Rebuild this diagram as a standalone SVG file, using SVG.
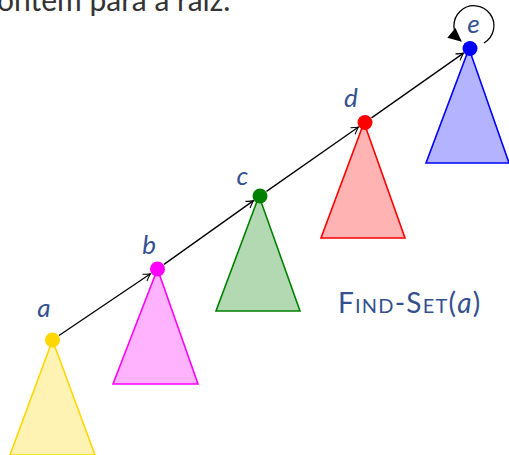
<svg xmlns="http://www.w3.org/2000/svg" width="509" height="455" viewBox="0 0 509 455">
<style>
.lbl{font-family:Lato,"Noto Sans",sans-serif;font-style:italic;font-size:26px;fill:#34508f;text-anchor:middle}
.tri{stroke-width:1.6;stroke-linejoin:miter}
.edge{stroke:#000;stroke-width:1.3;fill:none}
</style>
<defs>
<marker id="to" markerUnits="userSpaceOnUse" markerWidth="14" markerHeight="12" viewBox="-8 -6 10 12" refX="0" refY="0" orient="auto">
<path d="M -7,-4 Q -2,-0.8 0,0 Q -2,0.8 -7,4" fill="none" stroke="#000" stroke-width="1.1"/>
</marker>
<marker id="loopHead" markerUnits="userSpaceOnUse" markerWidth="16" markerHeight="16" viewBox="-12 -7 14 14" refX="0" refY="0" orient="auto">
<path d="M -11,-5.5 L 1,0 L -11,5.5 Z" fill="#000"/>
</marker>
</defs>
<rect width="509" height="455" fill="#fff"/>
<text x="-3" y="11" font-family="Lato,'Noto Sans',sans-serif" font-size="30" fill="#333">ontem para a raiz.</text>

<g id="connectors">
<line class="edge" x1="59" y1="335.5" x2="150.5" y2="273.7" marker-end="url(#to)"/>
<line class="edge" x1="164" y1="264.4" x2="253.5" y2="200.6" marker-end="url(#to)"/>
<line class="edge" x1="266.5" y1="191.4" x2="358.5" y2="127" marker-end="url(#to)"/>
<line class="edge" x1="371.5" y1="117.9" x2="463.5" y2="53.1" marker-end="url(#to)"/>
<path class="edge" stroke-width="1.5" d="M 484,43 A 20,20 0 1 0 461,41" marker-end="url(#loopHead)"/>
</g>

<g id="node-a">
<polygon class="tri" points="52.5,340 10,455 95,455" fill="#FFF3B3" stroke="#FFD700"/>
<circle cx="52.5" cy="340" r="7.5" fill="#FFD700"/>
<text class="lbl" x="44" y="317">a</text>
</g>
<g id="node-b">
<polygon class="tri" points="157.5,269 113,384 198,384" fill="#FFB3FF" stroke="#FF00FF"/>
<circle cx="157.5" cy="269" r="7.5" fill="#FF00FF"/>
<text class="lbl" x="149" y="254">b</text>
</g>
<g id="node-c">
<polygon class="tri" points="259,196 216,311 300,311" fill="#B3D9B3" stroke="#008000"/>
<circle cx="260" cy="196" r="7.5" fill="#008000"/>
<text class="lbl" x="242.5" y="185">c</text>
</g>
<g id="node-d">
<polygon class="tri" points="364,122.5 321,238 405,238" fill="#FFB3B3" stroke="#FF0000"/>
<circle cx="365" cy="122.5" r="7.5" fill="#FF0000"/>
<text class="lbl" x="351" y="107">d</text>
</g>
<g id="node-e">
<polygon class="tri" points="469,48.5 426,163 509,163" fill="#B3B3FF" stroke="#0000FF"/>
<circle cx="470" cy="48.5" r="7.5" fill="#0000FF"/>
<text class="lbl" x="473.5" y="33">e</text>
</g>

<text x="338" y="313" font-family="Lato,'Noto Sans',sans-serif" font-size="28" letter-spacing="1.2" fill="#34508f"><tspan font-variant="small-caps">Find-Set</tspan>(<tspan font-style="italic">a</tspan>)</text>
</svg>
